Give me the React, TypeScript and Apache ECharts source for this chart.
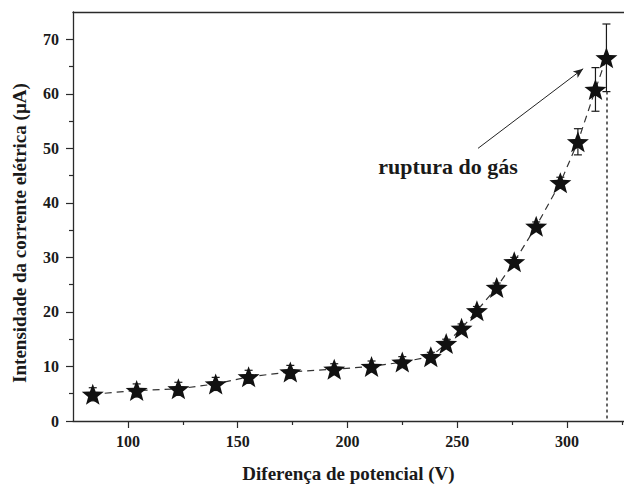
import React, { useEffect, useRef } from "react";
import * as echarts from "echarts";

// ---- data ----
const voltage = [84, 104, 123, 140, 155, 174, 194, 211, 225, 238, 245, 252, 259, 268, 276, 286, 297, 305, 313, 318];
const current = [4.9, 5.6, 5.9, 6.8, 8.1, 9.0, 9.5, 10.0, 10.8, 11.8, 14.2, 17.0, 20.2, 24.5, 29.2, 35.7, 43.7, 51.2, 60.8, 66.6];
const errorBar = [1.2, 1.2, 1.2, 1.2, 1.2, 1.2, 1.0, 1.0, 1.0, 0.8, 0.8, 0.8, 0.8, 0.8, 0.8, 0.8, 1.0, 2.4, 4.0, 6.2];

const xMajorTicks = [100, 150, 200, 250, 300];
const xMinorTicks = [125, 175, 225, 275, 325];
const yMajorTicks = [0, 10, 20, 30, 40, 50, 60, 70];
const yMinorTicks = [5, 15, 25, 35, 45, 55, 65];

const breakdownVoltage = 318;
const breakdownLow = 60.4;
const arrowFrom = [259.5, 50.0];
const arrowTo = [307.4, 64.6];
const annotationText = "ruptura do gás";
const xTitle = "Diferença de potencial (V)";
const yTitle = "Intensidade da corrente elétrica (µA)";

const X_MIN = 75;
const X_MAX = 326;
const Y_MIN = 0;
const Y_MAX = 75;

function starPath(): string {
  const R = 50;
  const r = 21;
  const pts: string[] = [];
  for (let i = 0; i < 10; i++) {
    const a = -Math.PI / 2 + (i * Math.PI) / 5;
    const rad = i % 2 === 0 ? R : r;
    const x = 50 + rad * Math.cos(a);
    const y = 50 + rad * Math.sin(a);
    pts.push((i === 0 ? "M" : "L") + x.toFixed(2) + " " + y.toFixed(2));
  }
  return "path://" + pts.join(" ") + " Z";
}

const FONT = "'Liberation Serif', 'Times New Roman', serif";
const TXT = "#1a1a1a";
const AX = "#2a2a2a";

export default function App() {
  const ref = useRef<HTMLDivElement>(null);

  useEffect(() => {
    if (!ref.current) return;
    const chart = echarts.init(ref.current, undefined, { renderer: "svg" });

    const points = voltage.map((v, i) => [v, current[i]]);
    const errData = voltage.map((v, i) => [v, current[i] - errorBar[i], current[i] + errorBar[i]]);

    const baseX = {
      type: "value",
      min: X_MIN,
      max: X_MAX,
      splitLine: { show: false },
      gridIndex: 0,
    };
    const baseY = {
      type: "value",
      min: Y_MIN,
      max: Y_MAX,
      splitLine: { show: false },
      gridIndex: 0,
    };

    const option: any = {
      animation: false,
      backgroundColor: "#ffffff",
      grid: { left: 73, right: 0, top: 12, bottom: 64, containLabel: false },
      xAxis: [
        {
          ...baseX,
          position: "bottom",
          axisLine: { show: true, lineStyle: { color: AX, width: 1.3 } },
          axisTick: { show: true, length: 7, inside: false, customValues: xMajorTicks, lineStyle: { color: AX, width: 1.2 } },
          axisLabel: {
            show: true,
            customValues: xMajorTicks,
            margin: 12,
            fontFamily: FONT,
            fontWeight: "bold",
            fontSize: 16,
            color: TXT,
          },
          name: xTitle,
          nameLocation: "middle",
          nameGap: 43,
          nameTextStyle: { fontFamily: FONT, fontWeight: "bold", fontSize: 19, color: TXT },
        },
        {
          ...baseX,
          position: "bottom",
          axisLine: { show: false },
          axisTick: { show: true, length: 4, customValues: xMinorTicks, lineStyle: { color: AX, width: 1.2 } },
          axisLabel: { show: false },
        },
        {
          ...baseX,
          position: "top",
          axisLine: { show: true, lineStyle: { color: AX, width: 1.3 } },
          axisTick: { show: false },
          axisLabel: { show: false },
        },
      ],
      yAxis: [
        {
          ...baseY,
          position: "left",
          axisLine: { show: true, lineStyle: { color: AX, width: 1.3 } },
          axisTick: { show: true, length: 7, customValues: yMajorTicks, lineStyle: { color: AX, width: 1.2 } },
          axisLabel: {
            show: true,
            customValues: yMajorTicks,
            margin: 14,
            fontFamily: FONT,
            fontWeight: "bold",
            fontSize: 16,
            color: TXT,
          },
        },
        {
          ...baseY,
          position: "left",
          axisLine: { show: false },
          axisTick: { show: true, length: 4, customValues: yMinorTicks, lineStyle: { color: AX, width: 1.2 } },
          axisLabel: { show: false },
        },
      ],
      graphic: [
        {
          type: "text",
          x: 19,
          y: 233,
          rotation: Math.PI / 2,
          style: {
            text: yTitle,
            fontFamily: FONT,
            fontWeight: "bold",
            fontSize: 19,
            fill: TXT,
            textAlign: "center",
            textVerticalAlign: "middle",
          },
        },
        {
          type: "text",
          x: 448,
          y: 166,
          style: {
            text: annotationText,
            fontFamily: FONT,
            fontWeight: "bold",
            fontSize: 22,
            fill: TXT,
            textAlign: "center",
            textVerticalAlign: "middle",
          },
        },
      ],
      series: [
        {
          type: "custom",
          xAxisIndex: 0,
          yAxisIndex: 0,
          z: 2,
          silent: true,
          data: errData,
          renderItem: (params: any, api: any) => {
            const x = api.value(0);
            const lo = api.coord([x, api.value(1)]);
            const hi = api.coord([x, api.value(2)]);
            const cap = 4;
            const style = { stroke: "#1a1a1a", lineWidth: 1.2 };
            return {
              type: "group",
              children: [
                { type: "line", shape: { x1: lo[0], y1: lo[1], x2: hi[0], y2: hi[1] }, style },
                { type: "line", shape: { x1: lo[0] - cap, y1: lo[1], x2: lo[0] + cap, y2: lo[1] }, style },
                { type: "line", shape: { x1: hi[0] - cap, y1: hi[1], x2: hi[0] + cap, y2: hi[1] }, style },
              ],
            };
          },
          markLine: {
            silent: true,
            symbol: ["none", "none"],
            label: { show: false },
            lineStyle: { color: "#333", width: 1.5, type: [3, 3] },
            data: [[{ coord: [breakdownVoltage, breakdownLow] }, { coord: [breakdownVoltage, 0] }]],
          },
        },
        {
          type: "line",
          xAxisIndex: 0,
          yAxisIndex: 0,
          z: 3,
          data: points,
          symbol: starPath(),
          symbolSize: [22, 21],
          itemStyle: { color: "#111111" },
          lineStyle: { color: "#333333", width: 1.2, type: [7, 5] },
          markLine: {
            silent: true,
            symbol: ["none", "arrow"],
            symbolSize: [6, 10],
            label: { show: false },
            lineStyle: { color: "#222", width: 1, type: "solid" },
            data: [[{ coord: arrowFrom }, { coord: arrowTo }]],
          },
        },
      ],
    };

    chart.setOption(option);
    return () => chart.dispose();
  }, []);

  return <div ref={ref} style={{ position: "fixed", left: 0, top: 0, width: 624, height: 488 }} />;
}
